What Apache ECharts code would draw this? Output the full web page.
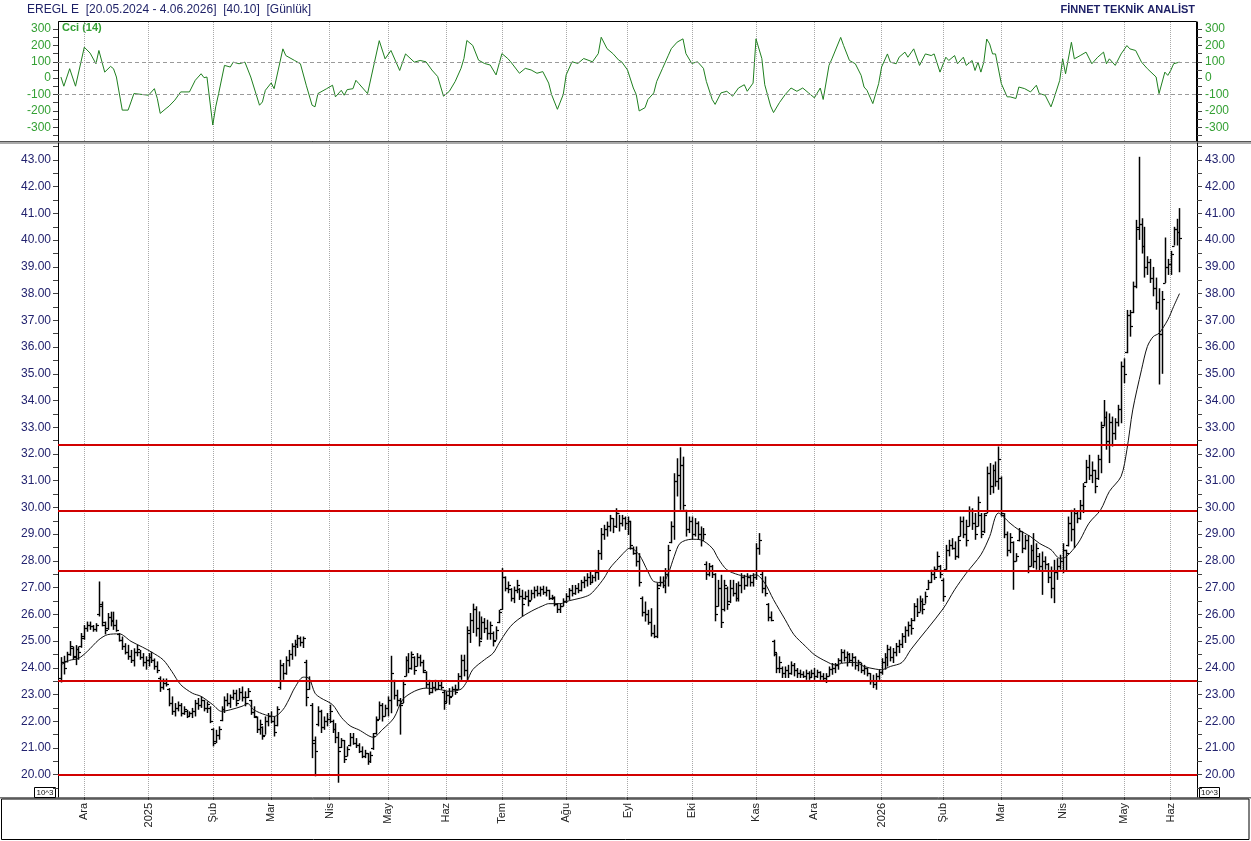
<!DOCTYPE html>
<html>
<head>
<meta charset="utf-8">
<script src="https://cdn.jsdelivr.net/npm/echarts@6.0.0/dist/echarts.min.js"></script>
<style>
  html, body { margin: 0; padding: 0; background: #fff; }
  #chart { width: 1251px; height: 841px; }
</style>
</head>
<body>
<div id="chart"></div>
<script>
// daily bars, index 0 = first visible trading day (20.11.2024)
var highs = [
  24.40,24.45,24.60,25.00,24.80,24.85,24.80,25.30,25.60,25.73,
  25.73,25.60,25.67,27.23,26.48,25.73,26.05,26.10,26.10,25.80,
  25.30,25.17,24.92,24.86,24.67,24.73,24.86,24.67,24.55,24.43,
  24.55,24.60,24.35,24.24,23.68,23.60,23.60,23.24,22.93,22.68,
  22.74,22.68,22.56,22.43,22.37,22.50,22.80,22.87,22.93,22.80,
  22.74,22.56,21.74,21.68,21.81,22.56,22.93,23.05,23.00,23.18,
  23.18,23.24,23.30,23.12,23.24,22.80,22.56,22.18,22.06,21.81,
  22.18,22.31,22.37,22.18,22.56,24.30,24.18,24.43,24.67,24.92,
  25.05,25.23,25.17,25.17,24.30,23.68,22.68,21.43,22.56,22.43,
  22.18,22.31,22.62,22.06,21.93,21.60,21.37,21.30,21.06,21.56,
  21.56,21.37,21.18,21.06,20.93,20.81,20.87,21.56,22.18,22.74,
  22.68,22.62,22.93,24.45,23.55,23.18,22.87,23.55,24.43,24.55,
  24.61,24.43,24.55,24.49,24.30,23.87,23.55,23.49,23.55,23.49,
  23.55,23.18,23.12,23.24,23.30,23.37,23.80,24.49,24.49,25.55,
  26.05,26.40,26.30,26.11,25.92,25.86,25.80,25.73,25.36,25.55,
  26.17,27.73,27.42,27.23,26.98,27.04,27.29,26.98,26.92,26.86,
  26.92,26.92,27.04,27.07,27.04,27.07,27.04,26.92,26.73,26.67,
  26.42,26.42,26.60,26.79,26.98,27.10,27.10,27.17,27.29,27.42,
  27.54,27.60,27.48,27.67,28.41,29.23,29.35,29.47,29.72,29.60,
  29.97,29.72,29.72,29.66,29.66,29.50,28.54,28.54,28.29,26.67,
  26.48,26.17,26.23,25.61,27.17,27.42,27.42,27.73,28.60,29.48,
  31.28,31.84,32.25,31.90,29.91,29.66,29.66,29.60,29.48,29.29,
  29.23,27.98,27.92,27.85,27.54,27.29,27.48,27.29,27.04,27.29,
  27.29,27.17,27.23,27.54,27.48,27.54,27.48,27.54,28.66,29.04,
  27.60,27.42,26.42,26.11,25.05,24.55,24.43,24.05,24.05,24.11,
  24.24,24.18,23.99,23.93,23.87,23.93,23.87,23.93,23.99,23.93,
  23.87,23.80,23.80,24.05,24.18,24.18,24.36,24.70,24.68,24.61,
  24.55,24.55,24.43,24.30,24.18,24.11,23.99,23.80,23.74,23.80,
  23.93,24.36,24.55,24.86,24.80,24.74,24.93,25.05,25.30,25.55,
  25.73,25.86,26.42,26.60,26.70,26.60,26.85,27.29,27.67,27.79,
  28.35,27.85,27.35,28.60,28.79,28.85,28.73,28.91,29.66,29.66,
  29.54,30.04,29.97,29.79,30.41,29.79,29.79,31.53,31.66,31.60,
  31.72,32.28,31.16,29.79,29.10,29.04,28.73,28.29,29.23,29.10,
  28.97,28.97,28.60,29.04,28.66,28.29,28.35,28.17,27.92,27.79,
  28.04,28.10,28.23,28.66,28.42,29.66,29.91,29.97,29.85,30.28,
  30.91,31.78,31.97,31.72,31.41,31.97,33.21,34.02,33.59,33.52,
  33.40,33.34,33.84,35.46,35.58,37.39,37.39,38.45,40.76,43.12,
  40.82,40.50,39.40,39.30,39.00,38.60,38.20,38.10,40.10,39.30,
  39.60,40.50,40.80,41.20
];
var lows = [
  23.45,23.75,24.20,24.45,24.30,24.10,24.30,24.75,25.05,25.35,
  25.42,25.35,25.35,25.92,25.55,25.25,25.42,25.55,25.42,25.35,
  24.98,24.67,24.50,24.30,24.18,24.05,24.43,24.30,24.05,23.93,
  24.05,24.18,23.93,23.80,23.10,23.18,23.30,22.56,22.24,22.18,
  22.37,22.18,22.24,22.12,22.18,22.12,22.18,22.43,22.50,22.37,
  22.31,21.93,21.06,21.18,21.31,22.00,22.31,22.56,22.50,22.80,
  22.56,22.80,22.74,22.56,22.87,22.24,22.12,21.56,21.50,21.31,
  21.50,21.81,21.93,21.43,21.81,23.18,23.55,23.74,24.05,24.30,
  24.43,24.74,24.80,24.74,22.56,23.18,20.62,19.94,21.81,21.56,
  21.68,21.81,21.93,21.56,21.18,19.70,21.00,20.44,20.69,21.06,
  21.12,21.00,20.81,20.62,20.62,20.37,20.44,20.93,21.50,22.06,
  21.99,22.18,22.18,22.30,22.81,22.56,21.50,22.68,23.68,23.80,
  23.93,23.74,24.05,24.05,23.80,23.24,22.99,23.05,23.12,23.18,
  23.18,22.43,22.68,22.62,22.93,22.99,23.18,23.55,23.68,23.49,
  24.93,25.30,25.17,24.80,25.05,25.30,25.05,25.05,24.80,25.05,
  25.67,26.17,26.86,26.79,26.48,26.42,26.79,26.54,25.92,26.54,
  26.30,26.54,26.60,26.67,26.67,26.73,26.67,26.54,26.54,26.30,
  26.05,26.05,26.30,26.42,26.54,26.67,26.73,26.79,26.86,26.98,
  27.04,27.10,27.17,27.23,27.29,28.04,28.79,28.91,29.10,29.04,
  29.23,29.10,29.29,29.16,28.97,28.42,28.23,27.79,27.04,25.92,
  25.73,25.61,25.17,25.11,25.11,27.04,26.98,26.79,27.04,28.66,
  28.79,30.41,29.91,29.91,28.91,29.04,28.79,28.91,28.79,28.54,
  28.79,27.29,27.42,27.36,25.74,26.29,25.49,26.11,26.17,26.42,
  26.67,26.48,26.48,26.79,26.92,27.04,27.04,27.04,27.29,28.23,
  26.79,26.67,25.74,25.74,24.43,23.80,23.80,23.62,23.62,23.62,
  23.74,23.68,23.62,23.62,23.62,23.55,23.55,23.62,23.55,23.62,
  23.55,23.49,23.43,23.68,23.74,23.80,23.93,24.18,24.24,24.05,
  24.18,24.05,23.93,23.87,23.80,23.74,23.68,23.37,23.24,23.18,
  23.55,23.74,23.93,24.05,24.24,24.18,24.43,24.55,24.74,24.93,
  25.17,25.24,25.74,25.90,26.10,26.00,26.40,26.92,27.17,27.29,
  27.67,27.35,26.48,27.67,28.17,28.42,28.04,28.10,28.91,28.85,
  28.54,29.29,29.16,28.79,29.29,28.85,29.04,29.79,30.47,30.53,
  30.78,30.66,29.66,28.85,28.17,28.29,26.92,27.98,28.73,28.29,
  28.42,27.54,27.79,27.73,27.67,27.60,26.73,27.67,27.17,26.60,
  26.42,27.29,27.67,27.54,27.60,28.54,28.73,28.48,29.41,29.54,
  29.79,30.91,31.03,30.91,30.53,31.03,31.28,33.03,32.16,31.66,
  32.28,32.53,33.03,33.15,34.65,35.77,36.39,37.27,38.20,40.01,
  39.50,38.60,38.70,38.40,37.90,37.40,34.60,35.00,38.40,38.70,
  38.70,39.80,39.80,38.80
];
var opens = [
  23.60,24.20,24.25,24.50,24.75,24.40,24.70,24.80,25.10,25.50,
  25.60,25.55,25.45,26.00,26.30,25.60,25.50,25.90,25.80,25.60,
  25.25,25.05,24.80,24.60,24.45,24.30,24.60,24.60,24.40,24.20,
  24.30,24.40,24.30,24.05,23.60,23.30,23.45,23.20,22.70,22.40,
  22.50,22.60,22.30,22.40,22.20,22.30,22.40,22.70,22.60,22.80,
  22.50,22.50,21.70,21.25,21.50,22.05,22.45,22.80,22.70,22.90,
  23.05,22.80,23.10,22.90,22.90,22.80,22.35,22.15,21.70,21.80,
  21.50,22.00,22.20,22.00,21.85,23.30,24.10,23.80,24.30,24.50,
  24.80,24.90,25.10,24.95,24.20,23.20,22.60,21.20,21.90,22.40,
  21.80,22.00,22.10,22.00,21.70,21.40,21.05,21.30,20.70,21.10,
  21.40,21.20,21.10,20.90,20.70,20.80,20.50,21.00,21.55,22.10,
  22.60,22.20,22.50,22.80,23.50,23.00,22.80,22.70,23.70,24.30,
  24.00,24.40,24.05,24.40,24.20,23.85,23.40,23.10,23.30,23.20,
  23.35,23.10,22.75,23.00,22.95,23.20,23.20,23.70,24.30,23.90,
  25.30,25.80,26.20,25.50,25.10,25.70,25.50,25.30,25.30,25.05,
  25.70,26.20,27.40,27.00,26.95,26.60,26.90,26.95,26.70,26.60,
  26.70,26.55,26.80,26.90,26.80,26.95,26.85,26.90,26.60,26.60,
  26.40,26.20,26.30,26.50,26.70,26.90,26.80,27.00,26.90,27.20,
  27.30,27.40,27.20,27.40,27.60,28.30,29.00,29.20,29.30,29.60,
  29.30,29.80,29.40,29.60,29.40,29.50,28.50,28.30,28.00,26.60,
  26.10,26.00,25.70,25.30,25.20,27.10,27.20,27.10,27.50,28.70,
  29.30,31.00,31.20,31.60,29.90,29.20,29.50,29.00,29.40,29.00,
  28.80,27.90,27.50,27.80,27.50,26.30,27.00,26.20,27.00,26.50,
  27.00,26.80,26.60,27.10,27.40,27.10,27.40,27.20,27.40,28.50,
  27.50,27.00,26.40,25.90,25.00,24.50,24.00,24.00,23.80,23.90,
  23.80,24.10,23.90,23.80,23.75,23.70,23.80,23.65,23.80,23.70,
  23.85,23.70,23.60,23.70,23.95,24.00,24.10,24.30,24.60,24.40,
  24.50,24.30,24.40,24.10,24.20,23.90,24.00,23.80,23.50,23.40,
  23.70,23.85,24.20,24.40,24.70,24.40,24.60,24.80,24.90,25.20,
  25.40,25.60,25.80,26.30,26.10,26.50,26.40,26.95,27.20,27.50,
  27.70,27.80,27.30,27.70,28.40,28.60,28.50,28.20,28.95,29.50,
  29.00,29.30,29.90,29.40,29.30,29.70,29.10,29.80,31.30,30.80,
  31.40,31.00,31.10,29.70,29.00,28.40,28.70,28.00,28.80,29.10,
  28.50,28.80,27.80,28.40,28.00,28.20,27.80,28.00,27.90,27.40,
  27.00,27.60,27.80,28.00,28.40,28.60,29.40,29.20,29.80,29.60,
  30.10,30.95,31.50,31.20,31.40,31.10,31.80,33.10,33.40,32.50,
  33.20,32.80,33.20,33.70,35.30,35.80,37.20,37.30,38.30,40.50,
  40.60,39.80,39.00,39.20,38.60,38.20,37.70,36.50,38.40,39.00,
  39.10,39.80,40.40,40.30
];
var closes = [
  24.20,24.00,24.50,24.80,24.45,24.70,24.60,25.20,25.50,25.60,
  25.55,25.45,25.60,26.40,25.70,25.40,25.90,25.75,25.60,25.40,
  25.05,24.80,24.60,24.45,24.30,24.60,24.70,24.40,24.20,24.30,
  24.40,24.30,24.05,23.90,23.30,23.45,23.40,22.70,22.40,22.50,
  22.60,22.30,22.45,22.20,22.30,22.40,22.70,22.60,22.80,22.50,
  22.65,22.00,21.20,21.50,21.70,22.45,22.80,22.70,22.90,23.05,
  22.70,23.10,22.90,22.70,23.15,22.35,22.20,21.70,21.90,21.45,
  22.00,22.20,22.00,21.60,22.45,24.10,23.80,24.30,24.50,24.80,
  24.90,25.10,24.95,25.10,22.90,23.50,21.30,20.90,22.40,21.80,
  22.00,22.10,22.40,21.70,21.40,20.90,21.30,20.60,20.95,21.40,
  21.20,21.10,20.90,20.70,20.80,20.50,20.75,21.45,22.05,22.60,
  22.20,22.50,22.80,23.80,23.00,22.80,22.60,23.40,24.30,24.00,
  24.50,23.90,24.40,24.20,23.90,23.40,23.10,23.30,23.20,23.35,
  23.30,22.70,23.00,22.90,23.20,23.10,23.70,24.30,23.90,25.40,
  25.80,26.20,25.50,25.00,25.70,25.50,25.30,25.60,25.00,25.40,
  26.10,27.40,27.00,27.10,26.60,26.90,27.10,26.70,26.40,26.70,
  26.50,26.80,26.90,26.80,26.95,26.85,26.90,26.60,26.65,26.40,
  26.20,26.30,26.50,26.70,26.90,26.80,27.00,26.90,27.20,27.30,
  27.40,27.20,27.40,27.60,28.30,29.00,29.20,29.30,29.60,29.30,
  29.80,29.40,29.60,29.40,29.50,28.60,28.30,28.00,27.20,26.10,
  26.00,25.70,25.30,25.20,27.00,27.20,27.10,27.50,28.40,29.30,
  31.00,31.20,31.60,30.10,29.20,29.50,29.00,29.40,29.00,28.80,
  29.00,27.50,27.80,27.50,26.00,27.00,25.70,27.10,26.40,27.00,
  26.80,26.60,27.10,27.40,27.10,27.40,27.20,27.40,28.50,28.80,
  27.00,26.80,25.90,25.80,24.60,24.00,24.20,23.80,23.90,23.80,
  24.10,23.90,23.80,23.75,23.70,23.80,23.65,23.80,23.70,23.85,
  23.70,23.60,23.70,23.95,24.00,24.10,24.30,24.60,24.40,24.50,
  24.30,24.40,24.10,24.20,23.90,24.00,23.80,23.50,23.40,23.70,
  23.85,24.20,24.40,24.70,24.40,24.60,24.80,24.90,25.20,25.40,
  25.60,25.50,26.30,26.10,26.50,26.20,26.70,27.20,27.50,27.40,
  28.20,27.50,26.70,28.40,28.60,28.50,28.20,28.80,29.50,29.00,
  28.80,29.90,29.40,29.00,30.20,29.00,29.70,31.30,30.80,31.40,
  31.00,31.80,29.80,29.00,28.40,28.90,28.00,28.20,29.10,28.50,
  28.80,27.80,28.40,28.00,28.50,27.80,28.00,27.90,27.40,27.00,
  27.60,27.80,28.00,28.40,28.30,29.40,29.20,29.80,29.60,30.10,
  30.80,31.50,31.20,31.40,30.80,31.80,33.00,33.40,32.50,33.20,
  32.80,33.20,33.70,35.30,35.00,37.20,36.80,38.30,40.40,40.60,
  39.80,39.00,39.20,38.60,38.20,37.70,36.50,37.80,39.00,39.10,
  39.50,40.40,40.30,40.10
];

// moving average: [bar index, value]
var maPoints = [
  [0,24.11],[3,24.28],[6,24.35],[9,24.61],[13,25.05],[16,25.24],[20,25.27],[24,24.99],[28,24.77],[31,24.59],
  [35,24.30],[38,23.86],[41,23.37],[45,23.05],[48,22.93],[52,22.62],[55,22.37],[58,22.43],[62,22.56],[64,22.66],
  [66,22.43],[70,22.24],[73,22.18],[76,22.43],[78,22.80],[80,23.24],[83,23.65],[85,23.60],[87,23.05],[89,22.87],
  [93,22.62],[96,22.15],[99,21.83],[102,21.68],[107,21.40],[110,21.68],[114,22.12],[117,22.81],[121,23.12],[125,23.24],
  [130,23.18],[133,23.12],[137,23.20],[139,23.49],[141,23.93],[145,24.30],[148,24.55],[150,24.92],[153,25.42],[155,25.67],
  [158,25.92],[162,26.17],[165,26.32],[167,26.40],[171,26.40],[174,26.51],[178,26.61],[181,26.73],[183,26.94],[186,27.36],
  [188,27.73],[191,28.10],[194,28.44],[195,28.48],[198,28.23],[201,27.60],[203,27.23],[206,27.19],[208,27.54],[210,28.17],
  [212,28.66],[216,28.81],[219,28.79],[223,28.48],[225,28.10],[228,27.67],[232,27.48],[235,27.42],[238,27.48],[241,27.17],
  [244,26.55],[248,25.80],[251,25.24],[255,24.80],[258,24.49],[262,24.24],[265,24.11],[268,24.18],[272,24.20],[275,24.05],
  [279,23.95],[281,23.93],[284,24.05],[288,24.20],[291,24.68],[302,26.20],[306,26.92],[310,27.54],[315,28.23],[318,28.91],
  [321,29.79],[325,29.41],[328,29.16],[332,28.91],[335,28.66],[339,28.42],[342,28.10],[344,28.14],[347,28.48],[349,28.79],
  [352,29.41],[356,29.91],[359,30.60],[363,31.16],[365,32.16],[367,33.65],[370,35.15],[372,36.02],[374,36.39],[376,36.52],
  [379,37.02],[381,37.52],[383,38.00]
];

// CCI(14): [bar index, value]
var cciPoints = [
  [0,7],[1,-49],[3,58],[5,-49],[8,189],[10,153],[12,88],[13,169],[15,37],[17,72],[18,58],[19,7],
  [21,-195],[23,-195],[24,-145],[25,-94],[27,-98],[30,-104],[32,-64],[33,-124],[34,-215],[36,-185],
  [37,-171],[39,-134],[41,-84],[44,-84],[46,-13],[48,27],[49,3],[50,7],[52,-286],[53,-175],[54,-94],
  [56,78],[58,68],[59,98],[61,88],[63,98],[65,7],[68,-165],[69,-145],[70,-74],[72,-29],[73,-64],
  [76,179],[77,138],[80,108],[82,88],[84,-43],[86,-165],[87,-175],[88,-94],[91,-64],[93,-43],[94,-114],
  [96,-74],[97,-104],[98,-70],[100,-64],[101,-13],[102,-33],[105,-94],[107,68],[109,229],[111,118],
  [113,169],[116,47],[118,148],[121,98],[123,108],
  [125,100],[127,50],[129,10],[131,-110],[133,-80],[135,-20],[137,60],[138,120],[139,230],[141,200],
  [143,110],[145,90],[147,80],[149,20],[151,150],[153,120],[154,100],[157,30],[159,60],[161,50],
  [163,30],[165,40],[167,-30],[168,-100],[170,-190],[172,-100],[173,20],[175,100],[177,90],[179,120],
  [182,100],[184,150],[185,250],[187,180],[189,150],[191,110],[192,100],[194,50],[196,-60],[197,-100],
  [198,-200],[200,-180],[201,-130],[203,-90],[204,-20],[206,60],[208,140],[209,180],[211,220],[213,240],
  [214,150],[216,90],[218,100],[220,60],[221,-20],[223,-130],[224,-160],[226,-90],[228,-80],[230,-110],
  [232,-60],[234,-40],[235,-80],[237,-30],[238,240],[240,120],[241,-40],[243,-170],[244,-210],[246,-150],
  [248,-100],[250,-60],[252,-80],[254,-60],[256,-90],[258,-120],[260,-60],[261,-130],
  [263,78],[264,118],[267,249],[268,199],[270,108],[272,88],[274,17],[275,-54],[276,-74],[278,-155],
  [279,-94],[280,-33],[281,68],[283,148],[284,98],[286,88],[287,128],[289,159],[290,128],[292,179],
  [294,78],[296,148],[298,138],[299,148],[301,37],[303,128],[304,108],[306,138],[307,88],[309,128],
  [310,78],[312,108],[313,47],[314,98],[315,37],[316,98],[317,239],[318,209],[319,148],[320,148],
  [322,-33],[324,-114],[325,-114],[327,-124],[328,-54],[330,-64],[332,-84],[334,-43],[335,-94],[337,-104],
  [339,-175],[340,-124],[342,-13],[343,118],[344,27],[346,219],[347,118],[349,138],[351,159],[353,88],
  [355,128],[357,159],[358,88],[359,118],[361,78],[363,148],[365,199],[366,179],[368,169],[370,98],
  [372,58],[375,7],[376,-94],[378,37],[379,17],[380,47],[381,88],[383,98]
];

// horizontal support / resistance levels
var redLevels = [32.34, 29.88, 27.64, 23.53, 19.99];

// first trading day of each month (bar index) and its label
var monthStart = [8, 30, 52, 72, 92, 112, 132, 151, 173, 194, 216, 238, 258, 281, 302, 322, 343, 364, 380];
var monthName = ['Ara', '2025', 'Şub', 'Mar', 'Nis', 'May', 'Haz', 'Tem', 'Ağu', 'Eyl', 'Eki', 'Kas', 'Ara', '2026', 'Şub', 'Mar', 'Nis', 'May', 'Haz'];

var priceTicks = [];
for (var t = 19.5; t <= 43.5; t += 0.5) priceTicks.push(+t.toFixed(1));
var priceLabels = [];
for (var p = 20; p <= 43; p++) priceLabels.push(p);
var cciTicks = [-350, -300, -250, -200, -150, -100, -50, 0, 50, 100, 150, 200, 250, 300];
var cciLabels = [-300, -200, -100, 0, 100, 200, 300];

// category slot 0 is an empty slot at the left edge, bar j sits on slot j + 1
var SLOTS = 391;
var cats = [];
for (var k = 0; k < SLOTS; k++) cats.push(String(k));
var labelAt = {};
monthStart.forEach(function (j, i) { labelAt[j + 1] = monthName[i]; });
function isMonth(idx) { return labelAt[idx] !== undefined; }

var ohlc = highs.map(function (h, j) {
  return [j + 1, opens[j], closes[j], lows[j], h];
});
var maData = maPoints.map(function (d) { return [d[0] + 1, d[1]]; });
var cciData = cciPoints.map(function (d) { return [d[0] + 1, d[1]]; });

var FONT = '"Liberation Sans", Arial, sans-serif';
var NAVY = '#22226e';
var GREEN = '#34a034';

function drawBar(params, api) {
  var k = api.value(0);
  var hi = api.coord([k, api.value(4)]);
  var lo = api.coord([k, api.value(3)]);
  var op = api.coord([k, api.value(1)]);
  var cl = api.coord([k, api.value(2)]);
  var x = Math.round(hi[0]) + 0.5;
  var oy = Math.round(op[1]) + 0.5;
  var cy = Math.round(cl[1]) + 0.5;
  return {
    type: 'group',
    children: [
      { type: 'line', shape: { x1: x, y1: hi[1], x2: x, y2: lo[1] }, style: { stroke: '#000', lineWidth: 1.5 } },
      { type: 'line', shape: { x1: x - 2.5, y1: oy, x2: x, y2: oy }, style: { stroke: '#000', lineWidth: 1.2 } },
      { type: 'line', shape: { x1: x, y1: cy, x2: x + 2.5, y2: cy }, style: { stroke: '#000', lineWidth: 1.2 } }
    ]
  };
}

function xAxisFor(gridIndex, withLabels) {
  return {
    type: 'category',
    gridIndex: gridIndex,
    data: cats,
    boundaryGap: false,
    axisLine: { show: false },
    axisTick: { show: withLabels, interval: isMonth, length: 3, lineStyle: { color: '#333' } },
    axisLabel: {
      show: withLabels,
      interval: isMonth,
      rotate: 90,
      margin: 6,
      fontSize: 11,
      fontFamily: FONT,
      color: '#222',
      formatter: function (v, idx) { return labelAt[idx] || ''; }
    },
    splitLine: { show: true, interval: isMonth, lineStyle: { color: '#a8a8a8', type: 'dotted', width: 1 } }
  };
}

function yAxisFor(gridIndex, pos, min, max, ticks, labels, color, fmt) {
  return {
    type: 'value',
    gridIndex: gridIndex,
    position: pos,
    min: min,
    max: max,
    axisLine: { show: true, onZero: false, lineStyle: { color: '#000', width: 1 } },
    axisTick: { show: true, customValues: ticks, length: 5, lineStyle: { color: '#444' } },
    axisLabel: {
      show: true,
      customValues: labels,
      margin: pos === 'left' ? 7 : 8,
      fontSize: 12,
      fontFamily: FONT,
      color: color,
      formatter: fmt
    },
    splitLine: { show: false }
  };
}

var chart = echarts.init(document.getElementById('chart'), null, { renderer: 'canvas' });

chart.setOption({
  animation: false,
  backgroundColor: '#fff',
  grid: [
    { left: 58, right: 54, top: 22, height: 119, outerBoundsMode: 'none' },
    { left: 58, right: 54, top: 143, height: 654, outerBoundsMode: 'none' }
  ],
  xAxis: [xAxisFor(0, false), xAxisFor(1, true)],
  yAxis: [
    yAxisFor(0, 'left', -383.5, 342.9, cciTicks, cciLabels, GREEN, function (v) { return String(v); }),
    yAxisFor(0, 'right', -383.5, 342.9, cciTicks, cciLabels, GREEN, function (v) { return String(v); }),
    yAxisFor(1, 'left', 19.166, 43.636, priceTicks, priceLabels, NAVY, function (v) { return v.toFixed(2); }),
    yAxisFor(1, 'right', 19.166, 43.636, priceTicks, priceLabels, NAVY, function (v) { return v.toFixed(2); })
  ],
  series: [
    {
      name: 'Cci (14)',
      type: 'line',
      xAxisIndex: 0,
      yAxisIndex: 0,
      data: cciData,
      showSymbol: false,
      lineStyle: { color: '#1f7f1f', width: 1 },
      markLine: {
        silent: true,
        symbol: 'none',
        label: { show: false },
        lineStyle: { color: '#9a9a9a', type: [4, 3], width: 1 },
        data: [{ yAxis: 100 }, { yAxis: -100 }]
      }
    },
    {
      name: 'EREGL',
      type: 'custom',
      xAxisIndex: 1,
      yAxisIndex: 2,
      renderItem: drawBar,
      encode: { x: 0, y: [1, 2, 3, 4] },
      data: ohlc,
      z: 2
    },
    {
      name: 'MA',
      type: 'line',
      xAxisIndex: 1,
      yAxisIndex: 2,
      data: maData,
      showSymbol: false,
      smooth: 0.3,
      lineStyle: { color: '#111', width: 1 },
      z: 3,
      markLine: {
        silent: true,
        symbol: 'none',
        label: { show: false },
        lineStyle: { color: '#d20000', type: 'solid', width: 2 },
        data: redLevels.map(function (v) { return { yAxis: v }; }),
        z: 5
      }
    }
  ],
  graphic: [
    { type: 'text', x: 27, y: 10, silent: true,
      style: { text: 'EREGL E  [20.05.2024 - 4.06.2026]  [40.10]  [Günlük]', fill: '#1c1f66', font: '12px ' + FONT,
               textVerticalAlign: 'middle', verticalAlign: 'middle' } },
    { type: 'text', x: 1195, y: 10, silent: true,
      style: { text: 'FİNNET TEKNİK ANALİST', fill: '#1c1f66', font: 'bold 11px ' + FONT,
               textAlign: 'right', align: 'right', textVerticalAlign: 'middle', verticalAlign: 'middle' } },
    { type: 'text', x: 62, y: 28, silent: true,
      style: { text: 'Cci (14)', fill: GREEN, font: 'bold 11px ' + FONT,
               textVerticalAlign: 'middle', verticalAlign: 'middle' } },
    { type: 'rect', silent: true, shape: { x: 58.5, y: 21.5, width: 1138, height: 120 },
      style: { fill: 'none', stroke: '#000', lineWidth: 1 } },
    { type: 'line', silent: true, shape: { x1: 0, y1: 141.5, x2: 1251, y2: 141.5 }, style: { stroke: '#555', lineWidth: 1 } },
    { type: 'line', silent: true, shape: { x1: 0, y1: 143, x2: 1251, y2: 143 }, style: { stroke: '#aaa', lineWidth: 2 } },
    { type: 'line', silent: true, shape: { x1: 0, y1: 797.5, x2: 1251, y2: 797.5 }, style: { stroke: '#777', lineWidth: 1 } },
    { type: 'line', silent: true, shape: { x1: 0, y1: 798.5, x2: 1251, y2: 798.5 }, style: { stroke: '#b4b4b4', lineWidth: 1 } },
    { type: 'rect', silent: true, shape: { x: 1.5, y: 799, width: 1247.5, height: 40.5 },
      style: { fill: 'none', stroke: '#000', lineWidth: 1 } },
    { type: 'rect', silent: true, shape: { x: 34.5, y: 787.5, width: 21, height: 10 },
      style: { fill: '#fff', stroke: '#000', lineWidth: 1 } },
    { type: 'text', x: 45, y: 792.5, silent: true,
      style: { text: '10^3', fill: '#111', font: '8px ' + FONT, textAlign: 'center', align: 'center',
               textVerticalAlign: 'middle', verticalAlign: 'middle' } },
    { type: 'rect', silent: true, shape: { x: 1199.5, y: 787.5, width: 20, height: 10 },
      style: { fill: '#fff', stroke: '#000', lineWidth: 1 } },
    { type: 'text', x: 1209.5, y: 792.5, silent: true,
      style: { text: '10^3', fill: '#111', font: '8px ' + FONT, textAlign: 'center', align: 'center',
               textVerticalAlign: 'middle', verticalAlign: 'middle' } }
  ]
});
</script>
</body>
</html>
